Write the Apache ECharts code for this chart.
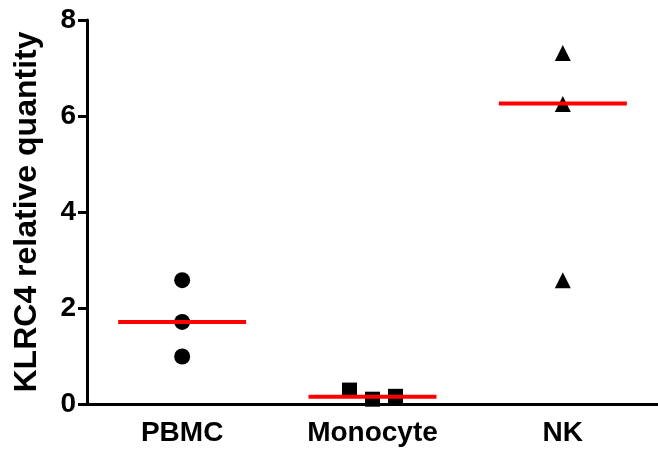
<!DOCTYPE html>
<html>
<head>
<meta charset="utf-8">
<script src="https://cdn.jsdelivr.net/npm/echarts@6/dist/echarts.min.js"></script>
<style>
html,body{margin:0;padding:0;background:#fff;}
#chart{width:658px;height:454px;}
</style>
</head>
<body>
<div id="chart"></div>
<script>
var categories = ['PBMC', 'Monocyte', 'NK'];
var pbmcValues = [2.58, 1.71, 0.99];
var monocyteValues = [0.29, 0.10, 0.16];
var nkValues = [7.31, 6.25, 2.58];
var medianValues = [1.71, 0.15, 6.26];
var yTicks = [0, 2, 4, 6, 8];
var yTitle = 'KLRC4 relative quantity';

var FONT = "'Liberation Sans', Arial, Helvetica, sans-serif";
var monoOffsets = [[-23, 0], [0, 0], [23, 0]];

var chart = echarts.init(document.getElementById('chart'), null, {renderer: 'canvas'});
chart.setOption({
  animation: false,
  backgroundColor: '#ffffff',
  grid: {left: 87, right: -8, top: 20, bottom: 50, containLabel: false},
  xAxis: {
    type: 'category',
    data: categories,
    boundaryGap: true,
    axisLine: {lineStyle: {color: '#000', width: 3}},
    axisTick: {alignWithLabel: true, length: 9, lineStyle: {color: '#000', width: 3}},
    axisLabel: {color: '#000', fontSize: 28, fontWeight: 'bold', fontFamily: FONT, margin: 15},
    splitLine: {show: false}
  },
  yAxis: {
    type: 'value',
    min: yTicks[0],
    max: yTicks[yTicks.length - 1],
    interval: 2,
    name: yTitle,
    nameLocation: 'middle',
    nameGap: 44,
    nameTextStyle: {color: '#000', fontSize: 32, fontWeight: 'bold', fontFamily: FONT},
    axisLine: {show: true, lineStyle: {color: '#000', width: 3}},
    axisTick: {show: true, length: 9, lineStyle: {color: '#000', width: 3}},
    axisLabel: {color: '#000', fontSize: 28, fontWeight: 'bold', fontFamily: FONT, margin: 11},
    splitLine: {show: false}
  },
  series: [
    {
      type: 'scatter',
      symbol: 'circle',
      symbolSize: 16,
      itemStyle: {color: '#000', opacity: 1},
      data: pbmcValues.map(function (v) { return [categories[0], v]; }),
      z: 2
    },
    {
      type: 'scatter',
      symbol: 'rect',
      symbolSize: 15,
      itemStyle: {color: '#000', opacity: 1},
      data: monocyteValues.map(function (v, i) {
        return {value: [categories[1], v], symbolOffset: monoOffsets[i]};
      }),
      z: 2
    },
    {
      type: 'scatter',
      symbol: 'triangle',
      symbolSize: [16, 16],
      itemStyle: {color: '#000', opacity: 1},
      data: nkValues.map(function (v) { return [categories[2], v]; }),
      z: 2
    },
    {
      type: 'scatter',
      symbol: 'rect',
      symbolSize: [128, 4],
      itemStyle: {color: '#ff0000', opacity: 1},
      data: medianValues.map(function (v, i) { return [categories[i], v]; }),
      z: 3
    }
  ]
});
</script>
</body>
</html>
